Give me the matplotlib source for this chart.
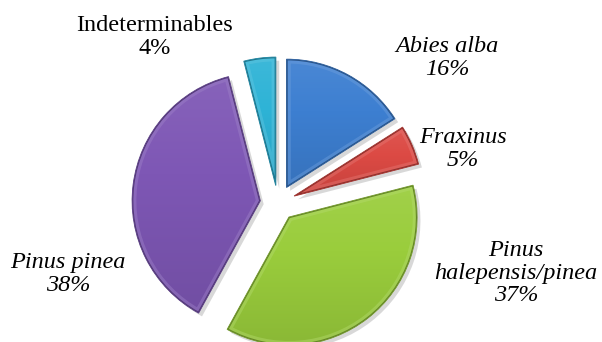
import numpy as np
import matplotlib.pyplot as plt
import matplotlib.patheffects as pe
from matplotlib.patches import Wedge
from matplotlib.colors import to_rgb

# data
species = ['Abies alba', 'Fraxinus', 'Pinus\nhalepensis/pinea', 'Pinus pinea', 'Indeterminables']
shares = [16, 5, 37, 38, 4]
colors = ['#3d7fd1', '#dc4a44', '#9acd3c', '#7e57b5', '#2eb3d6']
italic = [True, True, True, True, False]

W, H = 602, 342
cx, cy, r = 278, 203, 128   # pie centre and radius in pixels

fig = plt.figure(figsize=(W / 100, H / 100), dpi=100)
ax = fig.add_axes([0, 0, 1, 1])

def shade(c, f):
    c = np.array(to_rgb(c))
    if f >= 1:
        return tuple(c + (1 - c) * (f - 1))
    return tuple(c * f)

wedges, _ = ax.pie(shares, colors=colors, startangle=90, counterclock=False,
                   explode=[0.14] * len(shares), radius=1,
                   wedgeprops=dict(linewidth=0.8, joinstyle='round'))
for w, c in zip(wedges, colors):
    w.set_edgecolor(shade(c, 0.7))
    w.set_path_effects([pe.SimplePatchShadow(offset=(2.5, -2.5), alpha=0.3, shadow_rgbFace='gray'),
                        pe.Normal()])
    # soft vertical gradient clipped to the slice
    x0, y0, x1, y1 = w.get_path().get_extents().extents
    grad = np.linspace(1.07, 0.9, 64)
    img = np.array([shade(c, g) for g in grad]).reshape(64, 1, 3)
    im = ax.imshow(img, extent=(x0, x1, y0, y1), origin='upper', aspect='auto',
                   interpolation='bilinear', zorder=w.get_zorder() + 0.1)
    im.set_clip_path(w)
    # bevel: light inner band, dark rim
    kw = dict(center=w.center, r=w.r, theta1=w.theta1, theta2=w.theta2, facecolor='none')
    band = Wedge(edgecolor=shade(c, 1.25), linewidth=6, alpha=0.45, joinstyle='round',
                 zorder=w.get_zorder() + 0.2, **kw)
    ax.add_patch(band)
    band.set_clip_path(w)
    rim = Wedge(edgecolor=shade(c, 0.65), linewidth=1.6, joinstyle='round',
                zorder=w.get_zorder() + 0.3, **kw)
    ax.add_patch(rim)
    rim.set_clip_path(w)

ax.set_xlim(-cx / r, (W - cx) / r)
ax.set_ylim(-(H - cy) / r, cy / r)
ax.set_aspect('auto')
ax.axis('off')

# label positions (pixels, centre of text block)
label_pos = [(447, 58), (463, 149), (516, 273), (68, 274), (155, 37)]
for name, val, it, (x, y) in zip(species, shares, italic, label_pos):
    fig.text(x / W, 1 - y / H, f'{name}\n{val}%', ha='center', va='center',
             fontsize=17.5, family='Liberation Serif', style='italic' if it else 'normal',
             linespacing=1.12, color='black')

fig.savefig('out.png', dpi=100)
